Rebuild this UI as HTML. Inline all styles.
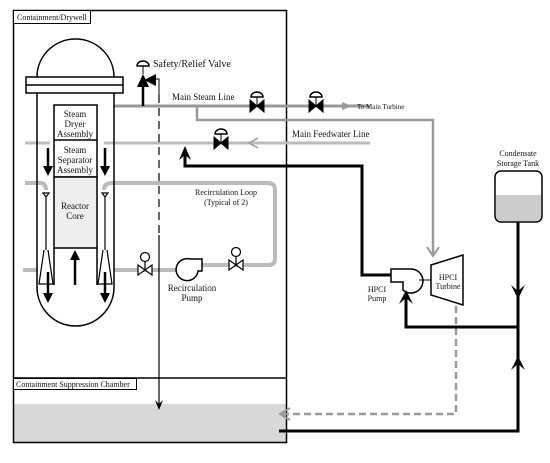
<!DOCTYPE html>
<html><head><style>body{margin:0;background:#fff}svg{display:block}text{font-family:"Liberation Serif",serif;fill:#111}</style></head><body>
<svg width="550" height="463" viewBox="0 0 550 463" xmlns="http://www.w3.org/2000/svg">
<defs>
<marker id="ab" markerWidth="10" markerHeight="10" refX="8" refY="5" orient="auto" markerUnits="userSpaceOnUse"><path d="M0,0 L9,5 L0,10 L3,5 Z" fill="#000"/></marker>
<marker id="ag" markerWidth="12" markerHeight="10" refX="10" refY="5" orient="auto" markerUnits="userSpaceOnUse"><path d="M0,0 L11,5 L0,10" fill="none" stroke="#999" stroke-width="1.5"/></marker>
</defs>
<!-- water -->
<rect x="14" y="404" width="272" height="38" fill="#d8d8d8"/>
<!-- containment -->
<rect x="13.5" y="10.5" width="273" height="432" fill="none" stroke="#000" stroke-width="1.5"/>
<line x1="13" y1="378" x2="287" y2="378" stroke="#000" stroke-width="1.5"/>
<rect x="13.5" y="10.5" width="77" height="13" fill="#fff" stroke="#000"/>
<text x="17" y="20" font-size="8">Containment/Drywell</text>
<rect x="13.5" y="378.5" width="123" height="11" fill="#fff" stroke="#000"/>
<text x="16" y="387" font-size="8">Containment Suppression Chamber</text>

<!-- gray pipes -->
<g fill="none" stroke-linecap="butt">
<line x1="114" y1="106" x2="370" y2="106" stroke="#999" stroke-width="3"/>
<polyline points="197,106 197,120 433,120 433,254" stroke="#999" stroke-width="2.5"/>
<line x1="25" y1="143" x2="50" y2="143" stroke="#bbb" stroke-width="3"/>
<line x1="104" y1="143" x2="370" y2="143" stroke="#bbb" stroke-width="3"/>
<path d="M25,183 H40 Q46,183 46,190" stroke="#bbb" stroke-width="4"/>
<path d="M104,190 Q104,183 112,183 H268 Q275,183 275,190 V259 Q275,265 268,265 H200" stroke="#bbb" stroke-width="4"/>
<line x1="23" y1="270" x2="37" y2="270" stroke="#bbb" stroke-width="4"/>
<line x1="114" y1="270" x2="178" y2="270" stroke="#bbb" stroke-width="4"/>
<polyline points="456,306 456,414 282,414" stroke="#999" stroke-width="2.5" stroke-dasharray="7,4"/>
</g>
<path d="M427,247 L433,256 L439,247" fill="none" stroke="#999" stroke-width="2"/>
<path d="M290,408 L280,414 L290,420" fill="none" stroke="#999" stroke-width="2"/>
<path d="M258,138 L249,143 L258,148" fill="none" stroke="#999" stroke-width="1.5"/>
<path d="M342,102 L352,106 L342,110" fill="#999"/>

<!-- reactor vessel -->
<path d="M37,77 A38.5,38 0 0 1 114,77" fill="#fff" stroke="#000" stroke-width="1.5"/>
<rect x="26" y="77" width="97" height="16" fill="#fff" stroke="#000" stroke-width="1.5"/>
<line x1="26" y1="85" x2="123" y2="85" stroke="#000" stroke-width="1.5"/>
<path d="M37,93 V287 A38.5,39 0 0 0 114,287 V93" fill="none" stroke="#000" stroke-width="1.5"/>
<rect x="54" y="105" width="43" height="72" fill="#fff" stroke="#000" stroke-width="1.5"/>
<rect x="54" y="177" width="43" height="71" fill="#eee" stroke="#000" stroke-width="1.5"/>
<line x1="54" y1="140" x2="97" y2="140" stroke="#000" stroke-width="1.5"/>
<line x1="54" y1="248" x2="54" y2="285" stroke="#000" stroke-width="1.5"/>
<line x1="97" y1="248" x2="97" y2="285" stroke="#000" stroke-width="1.5"/>
<g font-size="9" text-anchor="middle">
<text x="75" y="117">Steam</text><text x="75" y="127">Dryer</text><text x="75" y="137">Assembly</text>
<text x="75" y="153">Steam</text><text x="75" y="163">Separator</text><text x="75" y="173">Assembly</text>
<text x="75" y="209">Reactor</text><text x="75" y="219">Core</text>
</g>
<!-- jet pumps -->
<g stroke="#000" stroke-width="1.2" fill="none">
<path d="M43,193 h6 l-3,4 z"/><line x1="46" y1="197" x2="46" y2="250"/>
<path d="M44,250 L39,284 H53 L48,250"/>
<path d="M102,193 h6 l-3,4 z"/><line x1="105" y1="197" x2="105" y2="250"/>
<path d="M103,250 L98,284 H112 L107,250"/>
</g>
<g stroke="#000" stroke-width="2.5">
<line x1="48" y1="148" x2="48" y2="168"/><line x1="105" y1="148" x2="105" y2="168"/>
<line x1="48" y1="272" x2="48" y2="295"/><line x1="105" y1="272" x2="105" y2="295"/>
<line x1="75" y1="285" x2="75" y2="258"/>
</g>
<g fill="#000">
<path d="M43,166 h10 l-5,10z"/><path d="M100,166 h10 l-5,10z"/>
<path d="M43,293 h10 l-5,10z"/><path d="M100,293 h10 l-5,10z"/>
<path d="M70,260 h10 l-5,-10z"/>
</g>

<!-- safety relief -->
<line x1="143" y1="106" x2="143" y2="85" stroke="#000" stroke-width="2.5"/>
<path d="M137,87 L149,87 L143,74 Z" fill="#000"/>
<path d="M144,80 L156,74 L156,86 Z" fill="#000"/>
<polyline points="156,79 159,79 159,95" fill="none" stroke="#000" stroke-width="1"/>
<line x1="143" y1="74" x2="143" y2="66" stroke="#000"/>
<path d="M137,66 A6,5 0 0 1 149,66 Z" fill="#fff" stroke="#000" stroke-width="1.5"/>
<text x="153" y="67" font-size="10">Safety/Relief Valve</text>
<line x1="159" y1="95" x2="159" y2="235" stroke="#000" stroke-width="1.2" stroke-dasharray="8,5"/>
<line x1="159" y1="235" x2="159" y2="408" stroke="#000" stroke-width="1.2"/>
<path d="M155,400 L159,410 L163,400 L159,404 Z" fill="#000"/>

<!-- valves (filled) -->
<g fill="#000" stroke="#000">
<g transform="translate(257,106)"><path d="M-7,-6 L7,6 L7,-6 L-7,6 Z"/><line x1="0" y1="0" x2="0" y2="-9"/><path d="M-6,-9 A6,5 0 0 1 6,-9 Z" fill="#fff" stroke-width="1.5"/></g>
<g transform="translate(316,106)"><path d="M-7,-6 L7,6 L7,-6 L-7,6 Z"/><line x1="0" y1="0" x2="0" y2="-9"/><path d="M-6,-9 A6,5 0 0 1 6,-9 Z" fill="#fff" stroke-width="1.5"/></g>
<g transform="translate(221,143)"><path d="M-7,-6 L7,6 L7,-6 L-7,6 Z"/><line x1="0" y1="0" x2="0" y2="-9"/><path d="M-6,-9 A6,5 0 0 1 6,-9 Z" fill="#fff" stroke-width="1.5"/></g>
</g>
<!-- recirc valves (open) -->
<g fill="#fff" stroke="#000" stroke-width="1.2">
<g transform="translate(145,270)"><path d="M-7,-5 L7,5 L7,-5 L-7,5 Z"/><line x1="0" y1="0" x2="0" y2="-9"/><circle cx="0" cy="-13" r="4.5"/></g>
<g transform="translate(236,265)"><path d="M-7,-5 L7,5 L7,-5 L-7,5 Z"/><line x1="0" y1="0" x2="0" y2="-9"/><circle cx="0" cy="-13" r="4.5"/></g>
<path d="M190,259 H202 V271 H198 A11,11 0 1 1 190,259 Z" stroke-width="1.5"/>
</g>
<text x="172" y="100" font-size="9">Main Steam Line</text>
<text x="357" y="109" font-size="7">To Main Turbine</text>
<text x="292" y="137" font-size="9">Main Feedwater Line</text>
<text x="226" y="195" font-size="8" text-anchor="middle">Recirculation Loop</text>
<text x="226" y="205" font-size="8" text-anchor="middle">(Typical of 2)</text>
<text x="192" y="291" font-size="9" text-anchor="middle">Recirculation</text>
<text x="192" y="301" font-size="9" text-anchor="middle">Pump</text>

<!-- HPCI -->
<polyline points="185,152 185,166 362,166 362,275 392,275" fill="none" stroke="#000" stroke-width="3"/>
<path d="M179,160 L185,146 L191,160 L185,155 Z" fill="#000"/>
<path d="M391,269 H411 A12,12 0 1 1 403,290 V282 H391 Z" fill="#fff" stroke="#000" stroke-width="1.5"/>
<line x1="419" y1="280" x2="431" y2="280" stroke="#000"/>
<path d="M431,265 L463,255 L463,305 L431,295 Z" fill="#fff" stroke="#000" stroke-width="1.5"/>
<text x="448" y="280" font-size="8" text-anchor="middle">HPCI</text>
<text x="448" y="289" font-size="8" text-anchor="middle">Turbine</text>
<text x="377" y="292" font-size="8" text-anchor="middle">HPCI</text>
<text x="377" y="301" font-size="8" text-anchor="middle">Pump</text>
<text x="518" y="156" font-size="8" text-anchor="middle">Condensate</text>
<text x="518" y="166" font-size="8" text-anchor="middle">Storage Tank</text>
<rect x="495" y="171" width="47" height="51" rx="6" fill="#fff" stroke="#000" stroke-width="1.5"/>
<path d="M496,195 H541 V215 Q541,221 535,221 H502 Q496,221 496,215 Z" fill="#ccc"/>
<polyline points="518,222 518,431 279,431" fill="none" stroke="#000" stroke-width="3"/>
<polyline points="518,327 406,327 406,295" fill="none" stroke="#000" stroke-width="3"/>
<path d="M511,285 L518,299 L525,285 L518,291 Z" fill="#000"/>
<path d="M511,370 L518,356 L525,370 L518,364 Z" fill="#000"/>
<path d="M399,304 L406,290 L413,304 L406,298 Z" fill="#000"/>
</svg>
</body></html>
